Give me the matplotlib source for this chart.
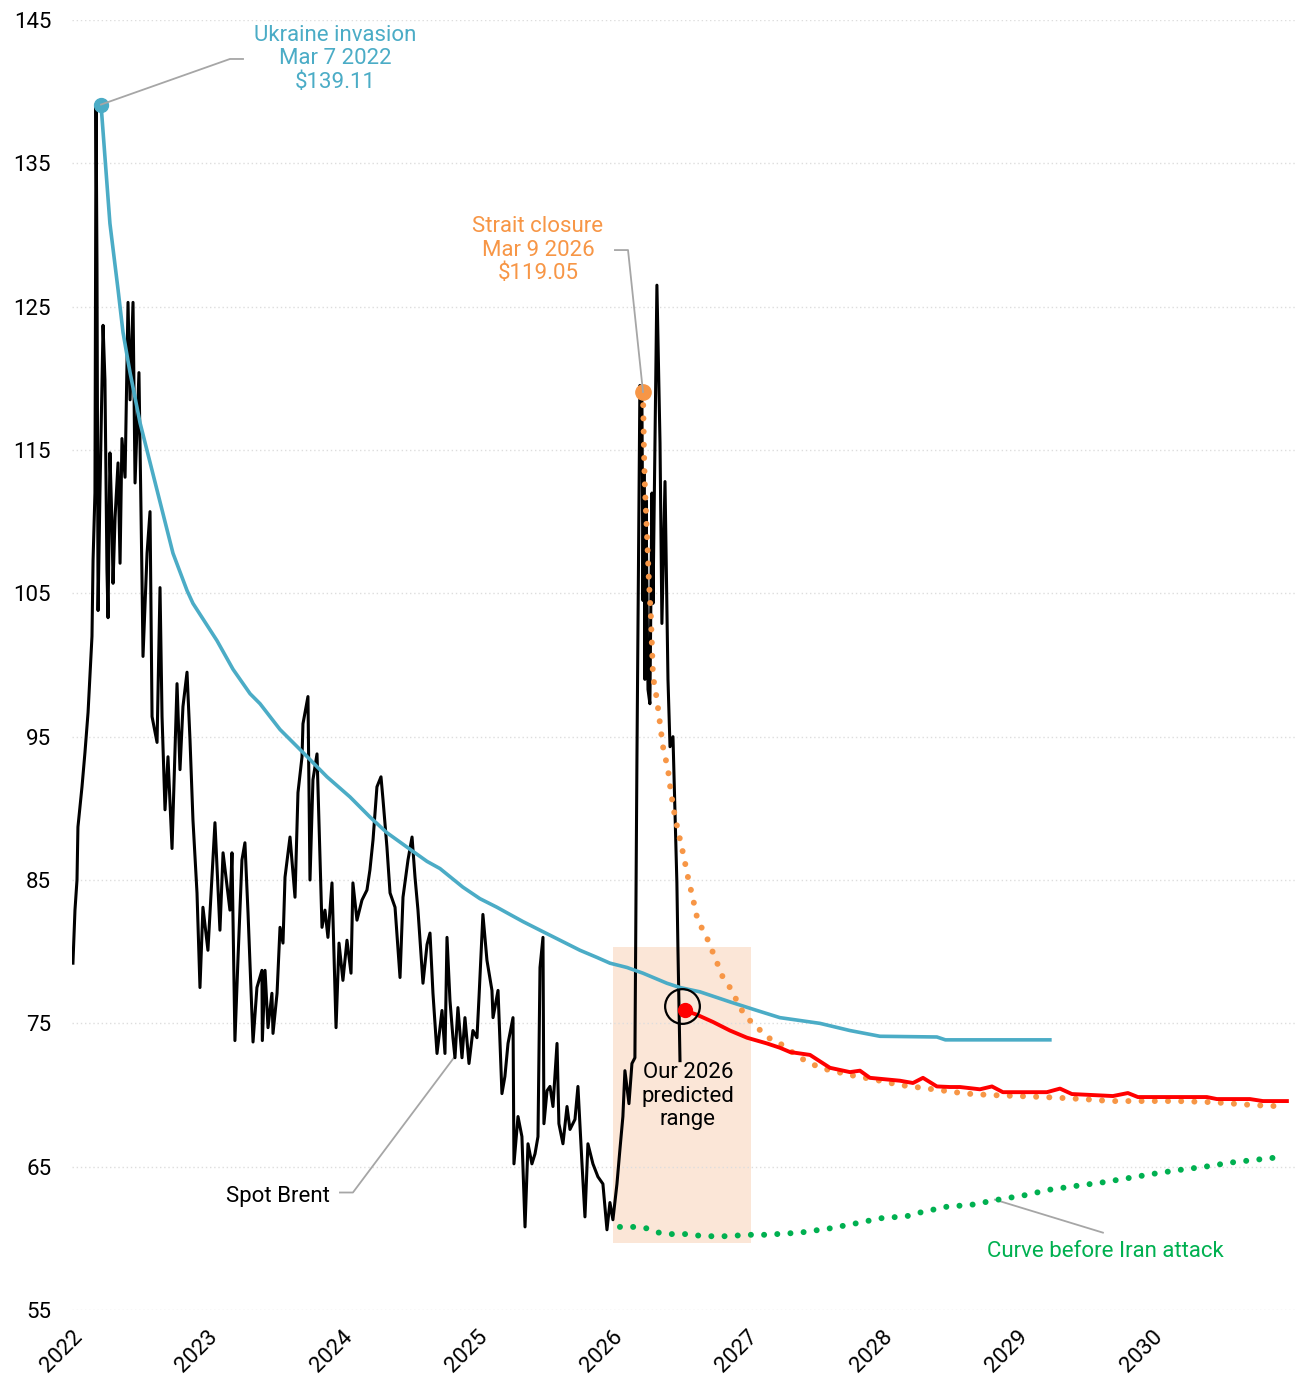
import matplotlib.pyplot as plt
from matplotlib.patches import Rectangle
from matplotlib import font_manager

# pick a font close to the original
avail = {f.name for f in font_manager.fontManager.ttflist}
fam = [f for f in ['Roboto', 'Liberation Sans', 'DejaVu Sans'] if f in avail]
plt.rcParams['font.family'] = fam

# Spot Brent (decimal years, $/bbl)
spot_t = [2022.007, 2022.022, 2022.037, 2022.044, 2022.074, 2022.096, 2022.119, 2022.148, 2022.156, 2022.170,
          2022.178, 2022.185, 2022.193, 2022.207, 2022.230, 2022.244, 2022.259, 2022.267, 2022.281, 2022.296,
          2022.304, 2022.319, 2022.341, 2022.356, 2022.370, 2022.393, 2022.415, 2022.430, 2022.452, 2022.467,
          2022.496, 2022.519, 2022.526, 2022.556, 2022.578, 2022.593, 2022.630, 2022.652, 2022.667, 2022.689,
          2022.711, 2022.741, 2022.778, 2022.800, 2022.822, 2022.852, 2022.874, 2022.896, 2022.926, 2022.948,
          2022.970, 2023.007, 2023.059, 2023.096, 2023.119, 2023.170, 2023.185, 2023.207, 2023.230, 2023.259,
          2023.281, 2023.304, 2023.341, 2023.370, 2023.407, 2023.410, 2023.430, 2023.452, 2023.481, 2023.489,
          2023.519, 2023.541, 2023.563, 2023.578, 2023.615, 2023.652, 2023.674, 2023.704, 2023.711, 2023.748,
          2023.763, 2023.785, 2023.815, 2023.852, 2023.874, 2023.896, 2023.926, 2023.956, 2023.978, 2024.007,
          2024.037, 2024.067, 2024.081, 2024.111, 2024.148, 2024.185, 2024.207, 2024.230, 2024.259, 2024.289,
          2024.304, 2024.333, 2024.356, 2024.393, 2024.430, 2024.452, 2024.489, 2024.519, 2024.541, 2024.563,
          2024.600, 2024.630, 2024.652, 2024.674, 2024.704, 2024.741, 2024.763, 2024.778, 2024.800, 2024.822,
          2024.837, 2024.859, 2024.889, 2024.911, 2024.941, 2024.970, 2025.000, 2025.015, 2025.044, 2025.074,
          2025.111, 2025.119, 2025.156, 2025.170, 2025.185, 2025.207, 2025.230, 2025.267, 2025.274, 2025.304,
          2025.333, 2025.356, 2025.378, 2025.407, 2025.430, 2025.452, 2025.467, 2025.489, 2025.496, 2025.519,
          2025.541, 2025.563, 2025.593, 2025.607, 2025.637, 2025.667, 2025.689, 2025.726, 2025.748, 2025.778,
          2025.800, 2025.822, 2025.859, 2025.896, 2025.933, 2025.963, 2025.985, 2026.007, 2026.037, 2026.059,
          2026.081, 2026.096, 2026.126, 2026.148, 2026.170, 2026.178, 2026.185, 2026.207, 2026.222, 2026.230,
          2026.237, 2026.244, 2026.252, 2026.267, 2026.281, 2026.296, 2026.304, 2026.333, 2026.356, 2026.370,
          2026.393, 2026.415, 2026.430, 2026.452, 2026.481, 2026.489, 2026.504]
spot_v = [79.2, 82.9, 85.0, 88.7, 91.5, 93.9, 96.7, 102.0, 107.3, 112.0,
          139.1, 128.0, 103.8, 112.0, 123.7, 119.9, 106.6, 103.3, 114.8, 109.9,
          105.7, 110.3, 114.1, 107.1, 115.8, 113.1, 125.3, 118.5, 125.3, 112.7,
          120.4, 105.7, 100.6, 107.8, 110.7, 96.4, 94.6, 105.4, 96.4, 89.9,
          93.6, 87.2, 98.7, 92.7, 97.1, 99.5, 94.8, 89.2, 84.1, 77.5,
          83.1, 80.1, 89.0, 81.5, 86.9, 82.9, 86.9, 73.8, 79.6, 86.4,
          87.6, 82.7, 73.7, 77.5, 78.7, 73.8, 78.7, 74.7, 77.1, 74.3,
          77.1, 81.7, 80.6, 85.2, 88.0, 83.8, 91.1, 93.6, 95.9, 97.8,
          85.0, 92.0, 93.8, 81.7, 82.9, 81.0, 84.8, 74.7, 80.6, 78.0,
          80.8, 78.5, 84.8, 82.2, 83.6, 84.3, 85.7, 87.8, 91.5, 92.2,
          90.6, 87.3, 84.1, 83.1, 78.2, 83.8, 86.4, 88.0, 85.2, 82.9,
          77.8, 80.5, 81.3, 77.1, 72.9, 75.9, 72.9, 81.0, 76.6, 74.0,
          72.6, 76.1, 72.6, 75.4, 72.2, 74.5, 74.0, 76.8, 82.6, 79.4,
          77.3, 75.4, 77.3, 73.8, 70.1, 71.3, 73.6, 75.4, 65.2, 68.5,
          67.1, 60.8, 66.6, 65.2, 65.9, 67.1, 78.9, 81.0, 68.0, 70.3,
          70.6, 69.2, 73.6, 68.0, 66.6, 69.2, 67.6, 68.3, 70.6, 65.2,
          61.5, 66.6, 65.2, 64.3, 63.8, 60.6, 62.5, 61.3, 63.8, 66.2,
          68.5, 71.7, 69.4, 72.2, 72.6, 84.3, 93.4, 119.5, 118.5, 104.5,
          113.6, 99.0, 111.5, 98.3, 97.3, 112.0, 104.3, 126.5, 115.5, 102.9,
          112.8, 99.0, 94.3, 95.0, 84.8, 80.1, 72.4]

# Futures curve on Mar 7 2022 (Ukraine invasion)
ukr_t = [2022.215, 2022.281, 2022.341, 2022.378, 2022.430, 2022.504, 2022.630, 2022.748, 2022.852, 2022.896,
         2023.074, 2023.193, 2023.319, 2023.393, 2023.541, 2023.711, 2023.889, 2024.059, 2024.207, 2024.333,
         2024.481, 2024.630, 2024.726, 2024.896, 2025.022, 2025.148, 2025.244, 2025.341, 2025.467, 2025.615,
         2025.763, 2025.889, 2025.985, 2026.111, 2026.230, 2026.407, 2026.504, 2026.652, 2026.874, 2027.074,
         2027.244, 2027.393, 2027.541, 2027.763, 2027.985, 2028.407, 2028.470, 2029.244]
ukr_v = [139.1, 130.8, 126.2, 123.2, 120.4, 116.9, 112.2, 107.8, 105.2, 104.3,
         101.7, 99.7, 98.0, 97.3, 95.5, 93.9, 92.2, 90.8, 89.4, 88.3,
         87.3, 86.3, 85.8, 84.5, 83.7, 83.1, 82.6, 82.1, 81.5, 80.8,
         80.1, 79.6, 79.2, 78.9, 78.5, 77.8, 77.5, 77.2, 76.5, 75.9,
         75.4, 75.2, 75.0, 74.5, 74.1, 74.05, 73.85, 73.85]

# Futures curve after strait closure (Mar 9 2026)
strait_t = [2026.230, 2026.237, 2026.244, 2026.259, 2026.274, 2026.289, 2026.304, 2026.333, 2026.356, 2026.378,
            2026.415, 2026.437, 2026.467, 2026.526, 2026.563, 2026.600, 2026.637, 2026.689, 2026.763, 2026.822,
            2026.874, 2026.963, 2027.022, 2027.156, 2027.230, 2027.393, 2027.541, 2027.763, 2027.985, 2028.133,
            2028.422, 2028.622, 2028.807, 2029.200, 2029.489, 2029.689, 2030.185, 2030.452, 2030.748, 2030.985]
strait_v = [119.05, 115.0, 112.4, 109.2, 105.8, 103.3, 99.2, 97.6, 95.9, 94.3,
            92.7, 91.1, 89.4, 86.9, 85.2, 83.7, 82.1, 81.3, 79.6, 78.2,
            77.5, 75.9, 75.2, 74.0, 73.7, 72.6, 71.9, 71.4, 71.0, 70.7,
            70.35, 70.1, 70.0, 69.86, 69.72, 69.58, 69.58, 69.5, 69.3, 69.2]

# Our forecast
pred_t = [2026.541, 2026.630, 2026.748, 2026.874, 2027.000, 2027.148, 2027.244, 2027.319, 2027.467, 2027.615,
          2027.763, 2027.837, 2027.911, 2028.133, 2028.230, 2028.304, 2028.407, 2028.504, 2028.578, 2028.726,
          2028.815, 2028.896, 2029.222, 2029.319, 2029.407, 2029.711, 2029.822, 2029.896, 2030.407, 2030.481,
          2030.726, 2030.822, 2031.000]
pred_v = [75.9, 75.6, 75.1, 74.5, 74.0, 73.6, 73.3, 73.0, 72.8, 71.9,
          71.6, 71.7, 71.2, 71.0, 70.84, 71.2, 70.6, 70.56, 70.56, 70.4,
          70.6, 70.2, 70.2, 70.45, 70.07, 69.93, 70.14, 69.86, 69.86, 69.72,
          69.72, 69.58, 69.58]

# Curve before Iran attack
pre_t = [2026.059, 2026.156, 2026.259, 2026.348, 2026.444, 2026.541, 2026.637, 2026.741, 2026.830, 2026.926,
         2027.030, 2027.126, 2027.222, 2027.393, 2027.615, 2027.837, 2027.985, 2028.185, 2028.281, 2028.474,
         2028.667, 2028.859, 2029.052, 2029.244, 2029.430, 2029.630, 2029.822, 2030.007, 2030.200, 2030.393,
         2030.593, 2030.785, 2030.978]
pre_v = [60.8, 60.8, 60.7, 60.4, 60.3, 60.3, 60.2, 60.15, 60.15, 60.2,
         60.25, 60.25, 60.3, 60.4, 60.7, 61.1, 61.4, 61.55, 61.8, 62.2,
         62.35, 62.7, 63.0, 63.4, 63.65, 63.9, 64.2, 64.5, 64.77, 65.0,
         65.3, 65.5, 65.7]

years = [2022, 2023, 2024, 2025, 2026, 2027, 2028, 2029, 2030]
yticks = [55, 65, 75, 85, 95, 105, 115, 125, 135, 145]

BLUE = '#4bacc6'
ORANGE = '#f79646'
RED = '#ff0000'
GREEN = '#00b050'
GRAY = '#a6a6a6'

fig = plt.figure(figsize=(12.95, 13.79), dpi=100)
ax = fig.add_axes([0.0556, 0.05, 0.9444, 0.9355])

# predicted range box
ax.add_patch(Rectangle((2026.007, 59.7), 1.023, 20.6, facecolor='#fbe6d7', edgecolor='none', zorder=0))

ax.plot(spot_t, spot_v, color='black', lw=2.2, zorder=3)
ax.plot(ukr_t, ukr_v, color=BLUE, lw=2.6, zorder=4)
ax.plot(strait_t, strait_v, color=ORANGE, lw=4.3, linestyle=(0, (0.01, 2.2)),
        dash_capstyle='round', zorder=5)
ax.plot(pred_t, pred_v, color=RED, lw=2.8, zorder=5)
ax.plot(pre_t, pre_v, color=GREEN, lw=4.3, linestyle=(0, (0.01, 2.2)),
        dash_capstyle='round', zorder=5)

# markers
ax.plot(ukr_t[0], ukr_v[0], 'o', color=BLUE, ms=10, zorder=6)
ax.plot(strait_t[0], strait_v[0], 'o', color=ORANGE, ms=11, zorder=6)
ax.plot(pred_t[0], pred_v[0], 'o', color=RED, ms=10, zorder=6)
ax.plot(pred_t[0] - 0.02, pred_v[0] + 0.3, 'o', mfc='none', mec='black', mew=1.6, ms=25, zorder=7)

# leader lines
ax.plot([2022.215, 2023.170, 2023.267], [139.1, 142.28, 142.28], color=GRAY, lw=1.3, zorder=7)
ax.plot([2026.230, 2026.119, 2026.022], [119.05, 128.95, 128.95], color=GRAY, lw=1.3, zorder=7)
ax.plot([2023.985, 2024.081, 2024.837], [63.2, 63.2, 72.7], color=GRAY, lw=1.3, zorder=2)
ax.plot([2029.637, 2028.837], [60.4, 62.7], color=GRAY, lw=1.3, zorder=2)

fs = 16
ax.text(2023.948, 142.28, 'Ukraine invasion\nMar 7 2022\n$139.11', color=BLUE, fontsize=fs,
        ha='center', va='center', linespacing=1.15)
ax.text(2025.452, 128.95, 'Strait closure\nMar 9 2026\n$119.05', color=ORANGE, fontsize=fs,
        ha='center', va='center', linespacing=1.15)
ax.text(2023.911, 62.95, 'Spot Brent', color='black', fontsize=fs, ha='right', va='center')
ax.text(2029.652, 59.05, 'Curve before Iran attack', color=GREEN, fontsize=fs, ha='center', va='center')
ax.text(2026.563, 69.93, 'Our 2026\npredicted\nrange', color='black', fontsize=fs,
        ha='center', va='center', linespacing=1.15, zorder=8)

ax.set_xlim(2022, 2031.06)
ax.set_ylim(55, 145)
ax.set_yticks(yticks)
ax.set_xticks(years)
ax.set_xticklabels([str(y) for y in years], rotation=45, ha='right', rotation_mode='anchor')
ax.tick_params(axis='both', length=0, labelsize=fs)
ax.tick_params(axis='y', pad=15)
ax.tick_params(axis='x', pad=12)
ax.grid(axis='y', color='#dddddd', linestyle=(0, (1, 2)), lw=1)
ax.set_axisbelow(True)
for s in ax.spines.values():
    s.set_visible(False)

fig.savefig('out.png', dpi=100)
